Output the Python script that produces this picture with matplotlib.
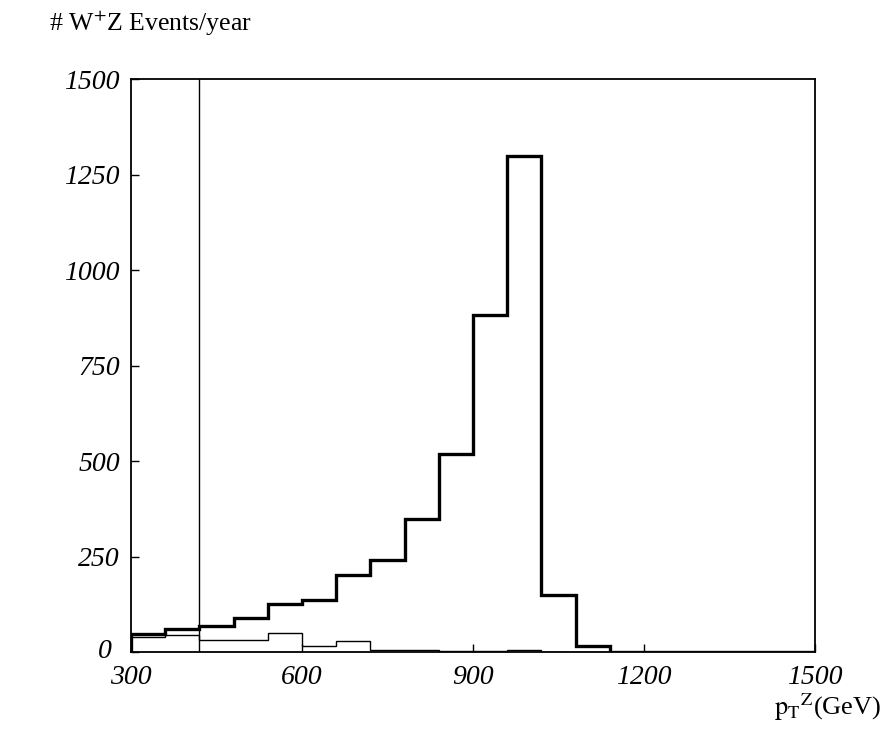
import matplotlib
matplotlib.use("Agg")
import matplotlib.pyplot as plt
import numpy as np
from matplotlib.transforms import ScaledTranslation

plt.rcParams["font.family"] = ["Liberation Serif", "DejaVu Serif"]
plt.rcParams["mathtext.fontset"] = "stix"

# bin edges in pT^Z (GeV), 60 GeV bins
edges = np.arange(300, 1560, 60)
# W+Z signal (thick line)
signal = [47, 60, 69, 90, 127, 136, 202, 241, 347, 518, 882, 1300, 150, 15,
          0, 0, 0, 0, 0, 0]
# background (thin line)
background = [39, 44, 31, 31, 50, 16, 29, 6, 4, 3, 3, 5, 0, 0,
              0, 0, 0, 0, 0, 0]
cut_x = 420

fig = plt.figure(figsize=(8.83, 7.45), dpi=100)
ax = fig.add_axes([0.1484, 0.1248, 0.7746, 0.769])

ax.stairs(signal, edges, color="black", linewidth=2.4)
ax.stairs(background, edges, color="black", linewidth=1.0)
ax.axvline(cut_x, color="black", linewidth=1.0)

ax.set_xlim(300, 1500)
ax.set_ylim(0, 1500)
ax.set_xticks([300, 600, 900, 1200, 1500])
ax.set_yticks([0, 250, 500, 750, 1000, 1250, 1500])
ax.tick_params(direction="in", length=6, width=1, labelsize=20)
ax.tick_params(axis="x", pad=9)
ax.tick_params(axis="y", pad=8)
for lab in ax.get_xticklabels() + ax.get_yticklabels():
    lab.set_fontstyle("italic")
# the "0" on the y axis sits a little higher and further left, as in the original
fig.canvas.draw()
zero = ax.get_yticklabels()[0]
zero.set_transform(zero.get_transform() + ScaledTranslation(-0.08, 0.04, fig.dpi_scale_trans))
for s in ax.spines.values():
    s.set_linewidth(1.3)

fig.text(0.056, 0.968, "# W$^{+}$Z Events/year", fontsize=18.5, va="center")
fig.text(0.998, 0.04, r"$\mathrm{p_T}^{\mathrm{Z}}$(GeV)", fontsize=19,
         ha="right", va="baseline")

fig.savefig("out.png", dpi=100)
